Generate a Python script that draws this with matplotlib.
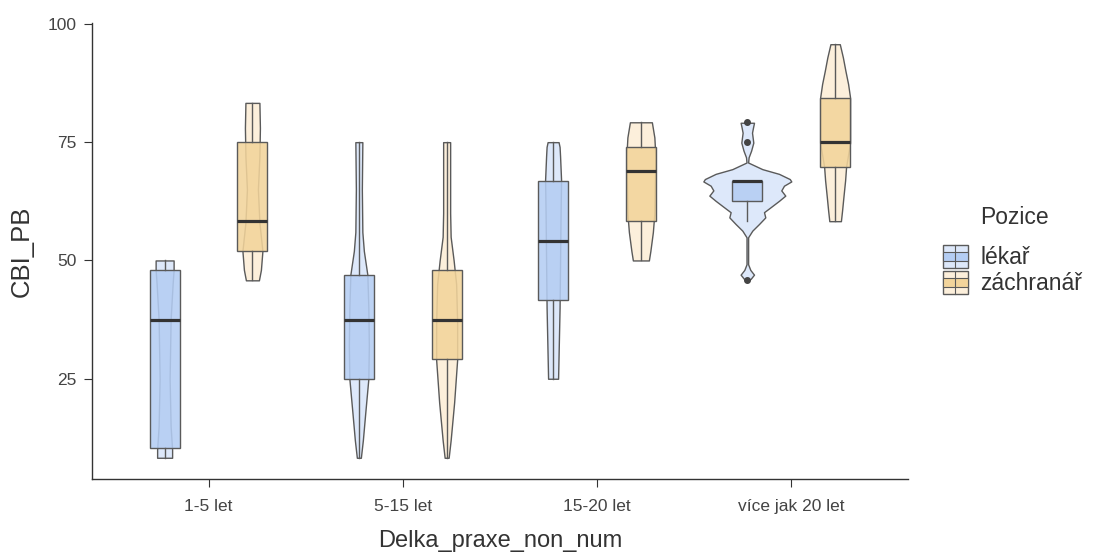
import matplotlib
matplotlib.use("Agg")
import matplotlib.pyplot as plt
from matplotlib.colors import to_rgba
from matplotlib.patches import Rectangle
from matplotlib.lines import Line2D
from matplotlib.legend_handler import HandlerBase

plt.rcParams['font.family'] = ['Liberation Sans', 'DejaVu Sans']

categories = ["1-5 let", "5-15 let", "15-20 let", "více jak 20 let"]
groups = ["lékař", "záchranář"]

# box statistics
lekar_q1 = [10.4, 25.0, 41.7, 62.5]
lekar_med = [37.5, 37.5, 54.2, 66.7]
lekar_q3 = [47.9, 46.9, 66.7, 66.7]
lekar_lo = [8.3, 8.3, 25.0, 58.3]
lekar_hi = [50.0, 75.0, 75.0, 66.7]
lekar_out = [[], [], [], [45.8, 75.0, 79.2]]

zachr_q1 = [52.1, 29.2, 58.3, 69.8]
zachr_med = [58.3, 37.5, 68.8, 75.0]
zachr_q3 = [75.0, 47.9, 73.9, 84.4]
zachr_lo = [45.8, 8.3, 50.0, 58.3]
zachr_hi = [83.3, 75.0, 79.2, 95.8]
zachr_out = [[], [], [], []]

# violin outlines: value levels and relative density (half width)
lekar_vy = [
    [8.3, 10, 15, 25, 37.5, 45, 48, 50],
    [8.3, 12, 18, 25, 32, 40, 47, 52, 56, 65, 75],
    [25, 30, 40, 50, 60, 67, 72, 74, 75],
    [45.7, 46.1, 47.0, 48.0, 49.2, 54.9, 56.3, 57.7, 59.1, 60.2, 61.2, 62.6,
     63.7, 64.8, 65.8, 66.7, 67.2, 68.3, 69.3, 70.7, 71.8, 73.2, 74.9, 77.0,
     78.1, 79.1],
]
lekar_vd = [
    [7.5, 7.5, 6, 5, 6, 8, 9, 9],
    [2, 4, 6.5, 9.5, 10, 9.5, 8.5, 5, 3.5, 3, 3.5],
    [5, 5.5, 6.5, 7, 7.5, 8, 7, 6.5, 5.5],
    [0.5, 3.3, 6.7, 3, 0.8, 0.8, 5, 11.7, 18, 16.7, 23, 31.7,
     38, 34, 36.7, 44, 42.5, 31.7, 15, 0.8, 1.3, 3.8, 6, 4.7,
     5.7, 6.7],
]
zachr_vy = [
    [45.8, 48, 52, 58, 65, 72, 78, 83.3],
    [8.3, 12, 20, 29, 37, 45, 50, 55, 60, 75],
    [50, 52, 56, 60, 66, 72, 76, 79.2],
    [58.3, 60.6, 63.4, 66.9, 69.8, 74.9, 84.4, 87.3, 90.1, 92.9, 95.7],
]
zachr_vd = [
    [6.5, 8.5, 10, 7, 5.5, 7, 7.5, 7],
    [2, 4, 7.5, 10.5, 10.5, 9.5, 7, 4, 3.5, 3.5],
    [8, 9.5, 12, 13.5, 14, 14.5, 13.5, 11],
    [5.8, 7, 8.3, 10, 11, 15, 15, 13, 10.3, 7.8, 4.7],
]

PX = 194.4  # pixels per category step
offsets = [-0.226, 0.226]
box_w = 0.154
light = ['#dde8fa', '#fcefdb']
dark = ['#b4cdf3', '#f2d49b']
edge = '#5a5a5a'
txt = '#333333'

fig = plt.figure(figsize=(10.95, 5.59), dpi=100)
ax = fig.add_axes([0.084, 0.143, 0.745, 0.816])

series = [
    (lekar_q1, lekar_med, lekar_q3, lekar_lo, lekar_hi, lekar_out, lekar_vy, lekar_vd),
    (zachr_q1, zachr_med, zachr_q3, zachr_lo, zachr_hi, zachr_out, zachr_vy, zachr_vd),
]

for g, (q1, med, q3, lo, hi, out, vy, vd) in enumerate(series):
    pos = [i + offsets[g] for i in range(len(categories))]
    for i in range(len(categories)):
        w = [d / PX for d in vd[i]]
        ax.fill_betweenx(vy[i], [pos[i] - x for x in w], [pos[i] + x for x in w],
                         facecolor=light[g], edgecolor=edge, lw=1.0, zorder=1)
    stats = [dict(q1=q1[i], med=med[i], q3=q3[i], whislo=lo[i], whishi=hi[i],
                  fliers=out[i]) for i in range(len(categories))]
    ax.bxp(stats, positions=pos, widths=box_w, patch_artist=True,
           showcaps=False, manage_ticks=False,
           boxprops=dict(facecolor=to_rgba(dark[g], 0.88), edgecolor=edge, lw=1.0),
           medianprops=dict(color='#333333', lw=2.3, solid_capstyle='butt'),
           whiskerprops=dict(color=edge, lw=1.0),
           flierprops=dict(marker='o', markerfacecolor='#444444',
                           markeredgecolor='#444444', markersize=4))

ax.set_xlim(-0.6, 3.6)
ax.set_ylim(3.8, 100.2)
ax.set_xticks(range(len(categories)))
ax.set_xticklabels(categories)
ax.set_yticks([25, 50, 75, 100])
for s in ['top', 'right']:
    ax.spines[s].set_visible(False)
for s in ['left', 'bottom']:
    ax.spines[s].set_color(txt)
    ax.spines[s].set_linewidth(1.0)
ax.tick_params(colors=txt, labelcolor='#444444', labelsize=12.5, length=6)
ax.tick_params(axis='x', pad=8)
ax.tick_params(axis='y', pad=5)
ax.set_xlabel('Delka_praxe_non_num', fontsize=17, color=txt, labelpad=12)
ax.set_ylabel('CBI_PB', fontsize=18.5, color=txt, labelpad=10)


class ViolinBoxHandler(HandlerBase):
    def __init__(self, lc, dc):
        super().__init__()
        self.lc = lc
        self.dc = dc

    def create_artists(self, legend, orig_handle, xdescent, ydescent,
                       width, height, fontsize, trans):
        x0, y0 = -xdescent, -ydescent
        outer = Rectangle((x0, y0), width, height, facecolor=self.lc,
                          edgecolor=edge, lw=1.0, transform=trans)
        inner = Rectangle((x0, y0 + height * 0.32), width, height * 0.36,
                          facecolor=self.dc, edgecolor=edge, lw=0.8, transform=trans)
        mid = Line2D([x0 + width / 2] * 2, [y0, y0 + height], color=edge,
                     lw=0.8, transform=trans)
        return [outer, inner, mid]


h1 = Rectangle((0, 0), 1, 1)
h2 = Rectangle((0, 0), 1, 1)
leg = fig.legend([h1, h2], groups, loc='center left',
                 bbox_to_anchor=(0.861, 0.517), bbox_transform=fig.transFigure,
                 frameon=False, fontsize=16.5, borderaxespad=0,
                 handlelength=1.1, handleheight=1.2, labelspacing=0.05,
                 handletextpad=0.55, borderpad=0,
                 handler_map={h1: ViolinBoxHandler(light[0], dark[0]),
                              h2: ViolinBoxHandler(light[1], dark[1])})
for t in leg.get_texts():
    t.set_color(txt)
fig.text(980 / 1095, 1 - 217 / 559, 'Pozice', fontsize=16.5, color=txt,
         ha='left', va='center')

fig.savefig('out.png', dpi=100)
